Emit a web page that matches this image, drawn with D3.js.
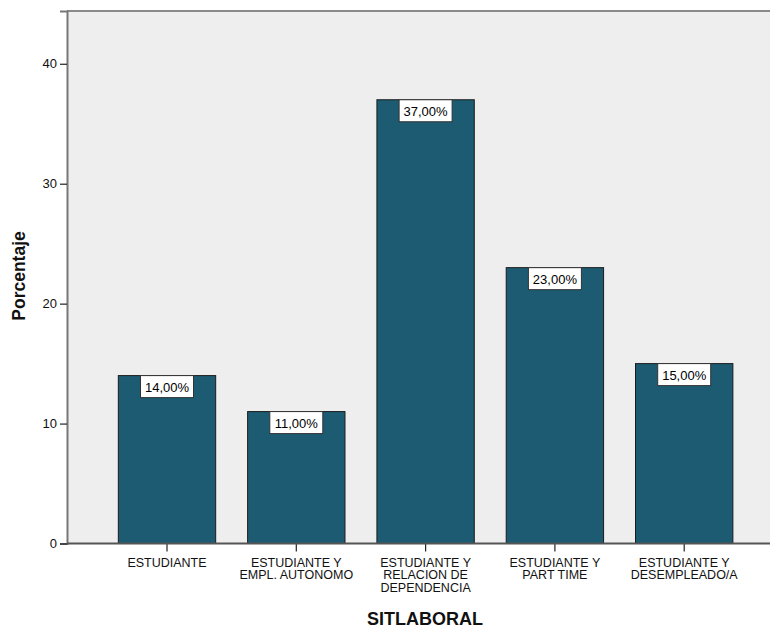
<!DOCTYPE html>
<html>
<head>
<meta charset="utf-8">
<script src="https://cdn.jsdelivr.net/npm/d3@7"></script>
<style>
  html, body { margin: 0; padding: 0; background: #ffffff; }
  svg { display: block; font-family: Arial, "Liberation Sans", sans-serif; }
</style>
</head>
<body>
<svg id="chart" width="770" height="628"></svg>
<script>
// Situación laboral de los encuestados (porcentaje)
const categories = [
  ["ESTUDIANTE"],
  ["ESTUDIANTE Y", "EMPL. AUTONOMO"],
  ["ESTUDIANTE Y", "RELACION DE", "DEPENDENCIA"],
  ["ESTUDIANTE Y", "PART TIME"],
  ["ESTUDIANTE Y", "DESEMPLEADO/A"]
];
const percentages = [14, 11, 37, 23, 15];
const yTicks = [0, 10, 20, 30, 40];
const yMax = 44.4;

const svg = d3.select("#chart");
const plot = { left: 67, top: 11, right: 770, bottom: 543.5 };

const x = d3.scaleBand()
  .domain(d3.range(categories.length))
  .range([102.35, 748.85])
  .paddingInner(0.247)
  .paddingOuter(0.1235);

const y = d3.scaleLinear().domain([0, yMax]).range([plot.bottom, plot.top]);

// plot background
svg.append("rect")
  .attr("x", plot.left).attr("y", plot.top)
  .attr("width", plot.right - plot.left).attr("height", plot.bottom - plot.top)
  .attr("fill", "#eeeeee");

// frame (top edge)
svg.append("line")
  .attr("x1", plot.left).attr("x2", plot.right)
  .attr("y1", plot.top).attr("y2", plot.top)
  .attr("stroke", "#8a8a8a").attr("stroke-width", 2);

// bars
svg.selectAll("rect.bar")
  .data(percentages)
  .join("rect")
  .attr("class", "bar")
  .attr("x", (d, i) => x(i))
  .attr("y", d => y(d))
  .attr("width", x.bandwidth())
  .attr("height", d => y(0) - y(d))
  .attr("fill", "#1d5b72")
  .attr("stroke", "#1b1b1b")
  .attr("stroke-width", 1);

// value labels
const fmt = v => d3.format(".2f")(v).replace(".", ",") + "%";
const labels = svg.selectAll("g.vlabel")
  .data(percentages)
  .join("g")
  .attr("class", "vlabel")
  .attr("transform", (d, i) => `translate(${x(i) + x.bandwidth() / 2},${y(d)})`);
labels.append("rect")
  .attr("x", -26.5).attr("y", 0)
  .attr("width", 53).attr("height", 22)
  .attr("fill", "#ffffff")
  .attr("stroke", "#333333").attr("stroke-width", 1);
labels.append("text")
  .attr("x", 0).attr("y", 16)
  .attr("text-anchor", "middle")
  .attr("font-size", 13)
  .attr("fill", "#000")
  .text(d => fmt(d));

// y axis
const yAxis = d3.axisLeft(y).tickValues(yTicks).tickSize(7).tickPadding(3).tickFormat(d3.format("d"));
const gy = svg.append("g").attr("transform", `translate(${plot.left},0)`).call(yAxis);
gy.select(".domain").attr("stroke", "#777").attr("stroke-width", 2);
gy.selectAll(".tick line").attr("stroke", "#222").attr("stroke-width", 1.2);
gy.selectAll(".tick text").attr("font-size", 13).attr("fill", "#111").attr("font-family", "Arial, 'Liberation Sans', sans-serif");

// x axis
const xAxis = d3.axisBottom(x).tickSize(8).tickFormat("");
const gx = svg.append("g").attr("transform", `translate(0,${plot.bottom})`).call(xAxis);
gx.select(".domain").remove();
gx.selectAll(".tick line").attr("stroke", "#222").attr("stroke-width", 1.2);
svg.append("line")
  .attr("x1", plot.left).attr("x2", plot.right)
  .attr("y1", plot.bottom).attr("y2", plot.bottom)
  .attr("stroke", "#555").attr("stroke-width", 2);

// category labels
categories.forEach((lines, i) => {
  const t = svg.append("text")
    .attr("text-anchor", "middle")
    .attr("font-size", 12.5)
    .attr("fill", "#111")
    .attr("x", x(i) + x.bandwidth() / 2)
    .attr("y", 566.5);
  lines.forEach((ln, k) => {
    t.append("tspan")
      .attr("x", x(i) + x.bandwidth() / 2)
      .attr("dy", k === 0 ? 0 : 12.5)
      .text(ln);
  });
});

// axis titles
svg.append("text")
  .attr("x", 425).attr("y", 625)
  .attr("text-anchor", "middle")
  .attr("font-size", 18).attr("font-weight", "bold")
  .attr("fill", "#111")
  .text("SITLABORAL");

svg.append("text")
  .attr("transform", "translate(25,276) rotate(-90)")
  .attr("text-anchor", "middle")
  .attr("font-size", 17.5).attr("font-weight", "bold")
  .attr("fill", "#111")
  .text("Porcentaje");
</script>
</body>
</html>
